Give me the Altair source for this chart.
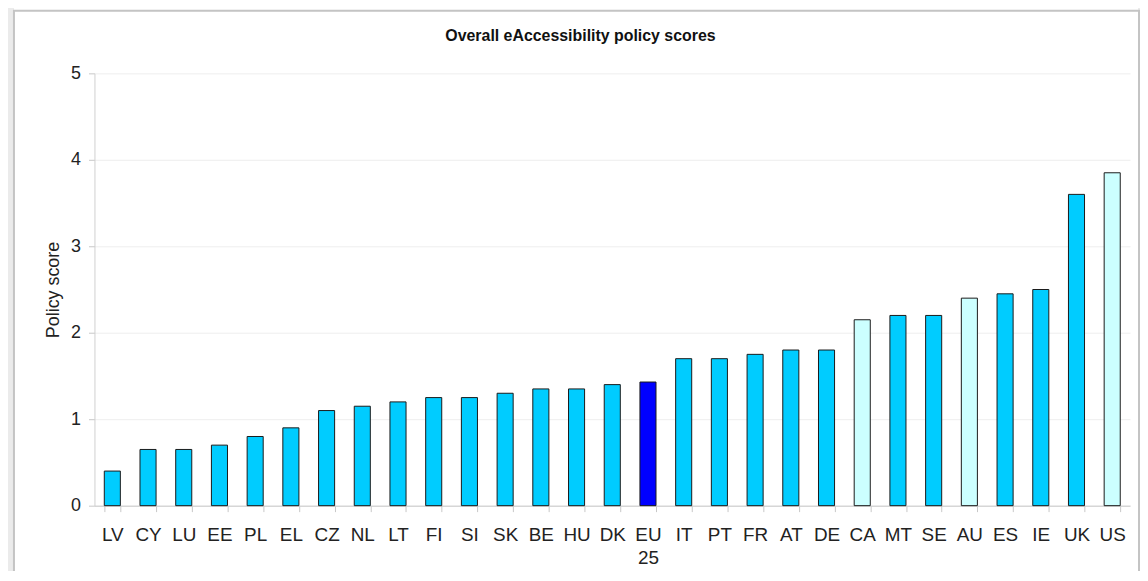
import altair as alt
import pandas as pd

countries = ["LV", "CY", "LU", "EE", "PL", "EL", "CZ", "NL", "LT", "FI", "SI", "SK",
             "BE", "HU", "DK", "EU25", "IT", "PT", "FR", "AT", "DE", "CA", "MT", "SE",
             "AU", "ES", "IE", "UK", "US"]
scores = [0.4, 0.65, 0.65, 0.7, 0.8, 0.9, 1.1, 1.15, 1.2, 1.25, 1.25, 1.3,
          1.35, 1.35, 1.4, 1.43, 1.7, 1.7, 1.75, 1.8, 1.8, 2.15, 2.2, 2.2,
          2.4, 2.45, 2.5, 3.6, 3.85]
groups = ["EU"] * 15 + ["EU average"] + ["EU"] * 5 + ["Non-EU"] + ["EU"] * 2 + \
         ["Non-EU"] + ["EU"] * 3 + ["Non-EU"]

group_names = ["EU", "EU average", "Non-EU"]
group_colors = ["#00CCFF", "#0000FF", "#CCFFFF"]
title_text = "Overall eAccessibility policy scores"

df = pd.DataFrame({"country": countries, "score": scores, "group": groups})

W, H = 1042, 435
FONT = "Liberation Sans"

one = pd.DataFrame({"k": [0]})

# light grey surround outside the white panel
surround = alt.Chart(one).mark_rect(
    fill="white", fillOpacity=0, stroke="#ebebeb", strokeWidth=12
).encode(
    x=alt.value(-87), x2=alt.value(W + 14),
    y=alt.value(-80), y2=alt.value(H + 90)
)

# thin grey frame of the white panel
frame = alt.Chart(one).mark_rect(
    fill="white", fillOpacity=0, stroke="#c4c4c4", strokeWidth=2
).encode(
    x=alt.value(-81), x2=alt.value(W + 9),
    y=alt.value(-63), y2=alt.value(H + 90)
)

title = alt.Chart(one).mark_text(
    text=title_text, font=FONT, fontSize=16, fontWeight="bold",
    color="#111111", align="center", baseline="alphabetic"
).encode(x=alt.value(489), y=alt.value(-33))

bars = alt.Chart(df).mark_bar(stroke="#1a1a1a", strokeWidth=1).encode(
    x=alt.X("country:N", sort=countries,
            scale=alt.Scale(paddingInner=0.55, paddingOuter=0.275),
            axis=alt.Axis(title=None, labelAngle=0, labelFontSize=19,
                          labelColor="#222222", labelFont=FONT,
                          labelExpr="datum.value == 'EU25' ? ['EU', '25'] : datum.value",
                          labelLineHeight=23, labelPadding=14,
                          tickBand="extent", tickSize=6, tickColor="#c8c8c8",
                          domainColor="#c8c8c8", grid=False)),
    y=alt.Y("score:Q", scale=alt.Scale(domain=[0, 5]),
            axis=alt.Axis(title="Policy score", values=[0, 1, 2, 3, 4, 5],
                          titleFontSize=18, titleFontWeight="normal",
                          titleColor="#222222", titleFont=FONT, titlePadding=8,
                          labelFontSize=18, labelColor="#222222", labelFont=FONT,
                          labelPadding=8, tickSize=6, tickColor="#c8c8c8",
                          domainColor="#d0d0d0", gridColor="#eeeeee")),
    color=alt.Color("group:N", scale=alt.Scale(domain=group_names, range=group_colors),
                    legend=None)
)

chart = alt.layer(surround, frame, title, bars).properties(
    width=W, height=H,
    autosize=alt.AutoSizeParams(type="none"),
    padding={"left": 87, "top": 64, "right": 10, "bottom": 64},
    background="white"
).configure_view(stroke=None)

chart.save("out.html", embed_options={"renderer": "svg", "actions": False})
